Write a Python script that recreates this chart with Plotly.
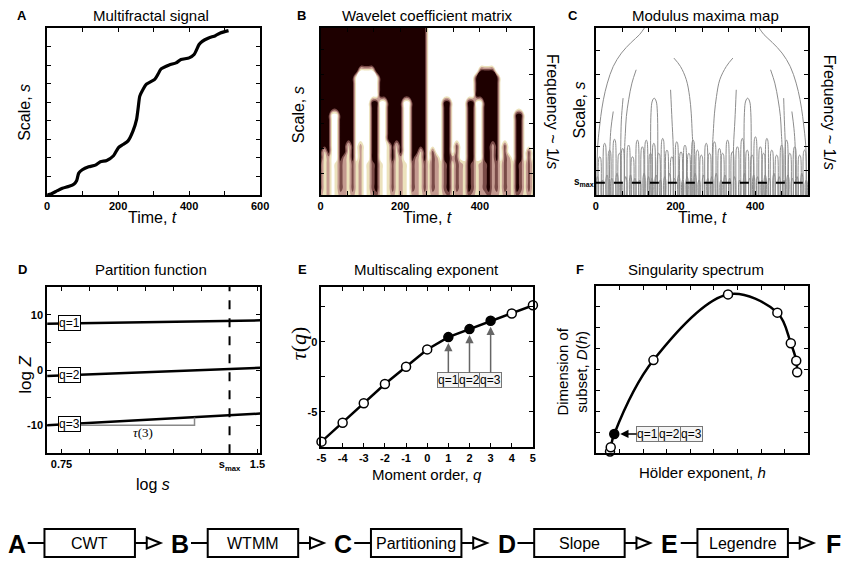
import plotly.graph_objects as go

W, H = 851, 565
OFF = 8  # the page body adds an 8px margin around the plot div
FONT = "Liberation Sans"

# ---- A: multifractal signal (value as fraction of axis height)
sig_t = [0, 11, 29, 43, 62, 76, 83, 89, 99, 117, 136, 150, 168, 187, 201, 215, 228, 242, 252, 256,
         261, 270, 279, 303, 312, 321, 344, 363, 377, 400, 414, 428, 437, 455, 474, 488, 511]
sig_v = [0, 0.006, 0.026, 0.040, 0.052, 0.066, 0.085, 0.131, 0.151, 0.169, 0.179, 0.199, 0.207,
         0.235, 0.284, 0.304, 0.324, 0.384, 0.453, 0.513, 0.592, 0.632, 0.662, 0.692, 0.722, 0.755,
         0.779, 0.791, 0.811, 0.821, 0.841, 0.901, 0.920, 0.940, 0.954, 0.970, 0.984]

# ---- B: wavelet coefficient matrix, coarse map (top row = largest scale)
# '#' dark, 'd' brown, 'p' pink, 'c' cream, '.' white
coef_rows = [
    "######### ######### ######### ......... ......... .........",
    "######### ######### ######### ......... ......... .........",
    "######### ######### ######### ......... ......... .........",
    "######### ######### ######### ......... ......... .........",
    "######### ######### ######### ......... ......... .........",
    "######### ######### ######### ......... ......... .........",
    "######### ######### ######### ......... ......... .........",
    "######### #....#### ######### ......... ....####. .........",
    "######### ......### ######### ......... ...###### .........",
    "######### ......### ######### ......... ...###### .........",
    "######### ......### ######### ......... ...###### .........",
    "######### ......### ######### ......... ...###### .........",
    "######### ....##..# ###..#### ....##... .##..#### .........",
    "######### ....##..# ###..#### ....##... .##..#### .........",
    "###..#### ....##..# ###..#### ....##... .##..#### ....##...",
    "###..#### ....##..# ###..#### ....##... .##..#### ....##...",
    "###..#### ....##..# ###..#### ....##... .##..#### ....##...",
    "###..#### ....##..# ###..#### ....##... .##..#### ....##...",
    "###..#### ....##..# ###..#### ....##... .##..#### ....##...",
    "###..##c# .p..##..c #c#..#### ....##.d. .##..##p# .d..##...",
    "#c#..##c# .p..##..c #c#..##c# .d..##.d. .##..##p# .d..##.d.",
    "#cp..#pc# .p..##..c #cp..#pc# .dp.##pd. .##..##p# .dp.##.d.",
    "dcp.cdpcd cp.cd#c.c dcpc.dpcd cdpcd#cdp c#dcpd#pd cdpc#dcdc",
    "dcp.cdpcd cp.cd#c.c dcpc.dpcd cdpcd#cdp c#dcpd#pd cdpc#dcdc",
    "dcp.cdpcd cp.cd#c.c dcpc.dpcd cdpcd#cdp c#dcpd#pd cdpc#dcdc",
    "dcp.cdpcd cp.cd#c.c dcpc.dpcd cdpcd#cdp c#dcpd#pd cdpc#dcdc",
    "dcp.cdpcd cp.cd#c.c dcpc.dpcd cdpcd#cdp c#dcpd#pd cdpc#dcdc",
    "pcp.cppcp cp.cpdc.c pcpc.ppcp cppcpdcpp cdpcppdpp cppcdpcpc",
]
coef_levels = {"#": 0.0, "d": 0.25, "p": 0.5, "c": 0.75, ".": 1.0}
T_MAX = 533

# ---- C: modulus maxima lines (time, scale as % of axis height)
mm_lines = [
    ([121.7, 109.4, 88.8, 64.2, 43.6, 28.8, 18.9, 12.3, 7.4, 4.1, 2.5], [100, 96, 91.4, 85, 77, 67, 57, 47, 37, 27, 0]),
    ([409.6, 422, 442.5, 467.2, 487.7, 502.6, 512.4, 519, 523.9, 527.3, 529], [100, 96, 91.4, 85, 77, 67, 57, 47, 37, 27, 0]),
    ([195.8, 212.2, 227, 235.2, 239.3, 241.8, 243.5, 244], [82, 77, 69, 59, 49, 37, 29, 0]),
    ([343.8, 327.4, 310.9, 302.7, 297.7, 294.5, 292.8, 292], [82, 77, 69, 59, 49, 37, 29, 0]),
    ([101.2, 90.5, 82.3, 76.5, 74, 72.4, 72], [75, 67, 57, 47, 37, 29, 0]),
    ([438.4, 449.1, 457.3, 463.1, 465.5, 467.2, 468], [75, 67, 57, 47, 37, 29, 0]),
    ([43.6, 38, 35.3, 34], [50, 40, 29, 0]),
    ([68.3, 64, 62.5, 62], [58, 45, 29, 0]),
    ([187.5, 191, 194.1, 195], [63, 45, 29, 0]),
    ([352.3, 349, 345.5, 345], [63, 45, 29, 0]),
    ([471.3, 473, 475.4, 476], [58, 45, 29, 0]),
    ([491.9, 497, 500.1, 501], [50, 40, 29, 0]),
]
# closed maxima loops: centre, top, half width
loop_t = [146.4, 380.8, 9.8, 22.1, 34.5, 46.8, 59.1, 67.3, 82.1, 92, 104.3, 116.7, 126.5, 137.2, 145.5,
          157.8, 167.7, 178.4, 190.7, 203, 213.7, 223.6, 233.4, 244.1, 254.8, 264.7, 277, 285.3, 297.6,
          310, 318.1, 330.5, 342.8, 355.2, 367.5, 379.8, 392.2, 400.4, 412.7, 421, 429.2, 441.5, 453.8,
          466.2, 478.5, 486.7, 499, 511.4, 523.7]
loop_top = [58, 58, 22.9, 31, 26.9, 33.4, 25, 27.9, 29.9, 22.9, 32.9, 28.9, 32.9, 25, 31, 25, 33.9,
            26.9, 22.9, 31.9, 25.9, 29.9, 25, 32.9, 26.9, 23.9, 31, 25, 31.9, 27.9, 25, 32.9, 25.9,
            28.9, 33.9, 26.9, 23.9, 34.9, 28.9, 25, 33.9, 26.9, 23.9, 29.9, 32.9, 25, 28.9, 23.9, 26.9]
loop_w = [8, 8] + [3.5] * 47
tiny_t = [4, 16, 28, 40, 53, 63, 75, 87, 98, 110, 121, 132, 141, 151, 162, 173, 185, 197, 208, 218, 229,
          239, 249, 259, 270, 281, 291, 302, 314, 324, 336, 348, 361, 373, 386, 396, 406, 417, 425, 435,
          447, 460, 472, 482, 493, 505, 517, 528]
tiny_top = [11, 9, 12, 10, 13, 9, 11, 12, 10, 9, 13, 11, 10, 12, 9, 11, 13, 10, 12, 9, 11, 10, 13, 9,
            12, 10, 11, 13, 9, 12, 10, 11, 9, 13, 10, 12, 11, 9, 12, 10, 13, 11, 9, 12, 10, 11, 13, 9]
s_max_c = 7.4

# ---- D: partition function
pf_logs = [0.695, 1.51]
pf_lines = {"q=1": [8.4, 9.0], "q=2": [-1.1, 0.4], "q=3": [-10.0, -7.9]}
pf_label_x = 0.779
s_max_d = 1.393
tau3_x = [0.82, 1.259, 1.259]
tau3_y = [-10.0, -10.0, -8.6]

# ---- E: multiscaling exponent
mom_q = [-5, -4, -3, -2, -1, 0, 1, 2, 3, 4, 5]
tau_q = [-7.14, -5.79, -4.40, -3.02, -1.79, -0.55, 0.33, 0.90, 1.5, 2.02, 2.6]

# ---- F: singularity spectrum (axis in tick units)
hold_h = [0.6, 0.63, 0.78, 2.44, 5.6, 7.69, 8.26, 8.49, 8.53]
dim_h = [0.08, 0.29, 0.92, 4.44, 7.57, 6.7, 5.24, 4.41, 3.86]
filled_idx = 2

# ---- flow chart
flow_letters = ["A", "B", "C", "D", "E", "F"]
flow_steps = ["CWT", "WTMM", "Partitioning", "Slope", "Legendre"]

FW, FH = W - OFF, H - OFF


def px(x):
    return (x - OFF) / FW


def py(y):
    return 1 - (y - OFF) / FH


fig = go.Figure()

# A
fig.add_trace(go.Scatter(x=sig_t, y=sig_v, mode="lines", line=dict(color="black", width=3.2, shape="spline", smoothing=0.6),
                         xaxis="x", yaxis="y", showlegend=False))

# B  (filled contours give the rounded arches)
z = [[coef_levels[ch] for ch in row.replace(" ", "")] for row in coef_rows]
ncol = len(z[0])
pink = [[0, "#1e0000"], [0.25, "#7a4b48"], [0.5, "#c49a90"], [0.75, "#ece2bc"], [1, "#ffffff"]]
fig.add_trace(go.Contour(z=z, x0=0, dx=T_MAX / (ncol - 1), y0=0, dy=1, zmin=0, zmax=1,
                         colorscale=pink, showscale=False, autocontour=False,
                         contours=dict(start=0.125, end=0.875, size=0.25, coloring="fill"),
                         line=dict(width=0, smoothing=1.3), xaxis="x2", yaxis="y2", hoverinfo="skip"))

# C
grey = "#8c8c8c"
for lx, ly in mm_lines:
    fig.add_trace(go.Scatter(x=lx, y=ly, mode="lines", line=dict(color=grey, width=1, shape="spline"),
                             xaxis="x3", yaxis="y3", showlegend=False))
lxs, lys = [], []
for c, top, w in zip(loop_t, loop_top, loop_w):
    lxs += [c - w, c - w, c - 0.6 * w, c, c + 0.6 * w, c + w, c + w, None]
    lys += [0, top * 0.85, top * 0.97, top, top * 0.97, top * 0.85, 0, None]
for c, top in zip(tiny_t, tiny_top):
    lxs += [c - 2.5, c - 2.5, c, c + 2.5, c + 2.5, None]
    lys += [0, top * 0.8, top, top * 0.8, 0, None]
fig.add_trace(go.Scatter(x=lxs, y=lys, mode="lines", line=dict(color=grey, width=1, shape="spline"),
                         xaxis="x3", yaxis="y3", showlegend=False))
fig.add_trace(go.Scatter(x=[0, T_MAX], y=[s_max_c, s_max_c], mode="lines", line=dict(color="black", width=2, dash="dash"),
                         xaxis="x3", yaxis="y3", showlegend=False))

# D
for name, vals in pf_lines.items():
    fig.add_trace(go.Scatter(x=pf_logs, y=vals, mode="lines", line=dict(color="black", width=2.5),
                             xaxis="x4", yaxis="y4", showlegend=False))
fig.add_trace(go.Scatter(x=tau3_x, y=tau3_y, mode="lines", line=dict(color="#888", width=1.5),
                         xaxis="x4", yaxis="y4", showlegend=False))
fig.add_trace(go.Scatter(x=[s_max_d, s_max_d], y=[-15.1, 15.1], mode="lines", line=dict(color="black", width=2, dash="dash"),
                         xaxis="x4", yaxis="y4", showlegend=False))

# E
fig.add_trace(go.Scatter(x=mom_q, y=tau_q, mode="lines+markers", line=dict(color="black", width=2.5),
                         marker=dict(size=9, color=["black" if q in (1, 2, 3) else "white" for q in mom_q],
                                     line=dict(color="black", width=1.5)),
                         cliponaxis=False, xaxis="x5", yaxis="y5", showlegend=False))

# F
fig.add_trace(go.Scatter(x=hold_h, y=dim_h, mode="lines", line=dict(color="black", width=2.5, shape="spline", smoothing=1),
                         xaxis="x6", yaxis="y6", showlegend=False))
fig.add_trace(go.Scatter(x=hold_h, y=dim_h, mode="markers",
                         marker=dict(size=9, color=["black" if i == filled_idx else "white" for i in range(len(hold_h))],
                                     line=dict(color="black", width=1.5)),
                         cliponaxis=False, xaxis="x6", yaxis="y6", showlegend=False))

tickfont = dict(family=FONT, size=11, color="black", weight="bold")
frame = dict(showline=True, linecolor="black", linewidth=1.8, mirror="ticks", ticks="inside", ticklen=4,
             tickwidth=1, tickcolor="black", showgrid=False, zeroline=False, tickfont=tickfont, fixedrange=True)


def dom_x(a, b):
    return [px(a), px(b)]


def dom_y(top, bottom):
    return [py(bottom), py(top)]


bc_ticks = [0, 66.7, 133.3, 200, 266.7, 333.3, 400, 466.7]
bc_text = ["0", "", "", "200", "", "", "400", ""]

layout = dict(
    width=FW, height=FH, margin=dict(l=0, r=0, t=0, b=0), plot_bgcolor="white", paper_bgcolor="white",
    font=dict(family=FONT, color="black"),
    xaxis=dict(frame, domain=dom_x(42.7, 259.3), range=[0, 600], tickvals=[0, 100, 200, 300, 400, 500, 600],
               ticktext=["0", "", "200", "", "400", "", "600"], anchor="y"),
    yaxis=dict(frame, domain=dom_y(28, 195), range=[0, 1], dtick=1 / 9, showticklabels=False, anchor="x"),
    xaxis2=dict(frame, domain=dom_x(320.7, 536.7), range=[0, T_MAX], tickvals=bc_ticks, ticktext=bc_text, anchor="y2"),
    yaxis2=dict(frame, domain=dom_y(28, 195), range=[len(z) - 1, 0], tickvals=[3.5, 7.5, 11.5, 15.5, 19.5, 23.5],
                showticklabels=False, anchor="x2"),
    xaxis3=dict(frame, domain=dom_x(600.7, 816.7), range=[0, T_MAX], tickvals=bc_ticks, ticktext=bc_text, anchor="y3"),
    yaxis3=dict(frame, domain=dom_y(28, 195), range=[0, 100], dtick=14.4, showticklabels=False, anchor="x3"),
    xaxis4=dict(frame, domain=dom_x(42.7, 259.3), range=[0.695, 1.51],
                tickvals=[0.75, 0.857, 0.964, 1.071, 1.179, 1.286, 1.393, 1.5],
                ticktext=["0.75", "", "", "", "", "", "s<sub>max</sub>", "1.5"], anchor="y4"),
    yaxis4=dict(frame, domain=dom_y(286.7, 453.3), range=[-15.1, 15.1], tickvals=[-10, -5, 0, 5, 10],
                ticktext=["-10", "", "0", "", "10"], anchor="x4"),
    xaxis5=dict(frame, domain=dom_x(321.7, 536.7), range=[-5, 5], tickvals=mom_q,
                ticktext=[str(q) for q in mom_q], anchor="y5"),
    yaxis5=dict(frame, domain=dom_y(286.7, 446.7), range=[-7.5, 3.93], tickvals=[-7.5, -5, -2.5, 0, 2.5],
                ticktext=["", "-5", "", "0", ""], anchor="x5"),
    xaxis6=dict(frame, domain=dom_x(600.7, 816.7), range=[0, 9], dtick=1, showticklabels=False, anchor="y6"),
    yaxis6=dict(frame, domain=dom_y(286, 453.3), range=[0, 7.97], dtick=1, showticklabels=False, anchor="x6"),
)
fig.update_layout(**layout)

ann = []


def text(x, y, s, size=15, angle=0, bold=False, family=FONT):
    ann.append(dict(x=px(x), y=py(y), xref="paper", yref="paper", text=s, showarrow=False, textangle=angle,
                    font=dict(family=family, size=size, color="black", weight="bold" if bold else "normal"),
                    xanchor="center", yanchor="middle"))


# panel titles and letters
for lx, tx, ty, letter, title in [(17, 148, 16, "A", "Multifractal signal"),
                                  (301, 430, 16, "B", "Wavelet coefficient matrix"),
                                  (577, 712, 16, "C", "Modulus maxima map"),
                                  (18, 148, 270, "D", "Partition function"),
                                  (302, 428, 270, "E", "Multiscaling exponent"),
                                  (585, 703, 270, "F", "Singularity spectrum")]:
    text(lx, ty, letter, size=13, bold=True)
    text(tx, ty, title, size=15)

# axis titles
text(20, 112, "Scale, <i>s</i>", size=16, angle=-90)
text(150, 217, "Time, <i>t</i>", size=16)
text(298, 115, "Scale, <i>s</i>", size=16, angle=-90)
text(429, 217, "Time, <i>t</i>", size=16)
text(556, 112, "Frequency ~ 1/<i>s</i>", size=16, angle=90)
text(585, 110, "Scale, <i>s</i>", size=16, angle=-90)
text(709, 217, "Time, <i>t</i>", size=16)
text(838, 112, "Frequency ~ 1/<i>s</i>", size=16, angle=90)
text(589, 182, "s<sub>max</sub>", size=10, bold=True)
text(20, 375, "log <i>Z</i>", size=17, angle=-90)
text(150, 484, "log <i>s</i>", size=16)
text(298, 343, "<i>τ</i>(<i>q</i>)", size=22, angle=-90, family="Liberation Serif")
text(429, 474, "Moment order, <i>q</i>", size=15)
text(576, 372, "Dimension of<br>subset, <i>D</i>(<i>h</i>)", size=15, angle=-90)
text(709, 472, "Hölder exponent, <i>h</i>", size=15)

# D labels
for name, vals in pf_lines.items():
    yv = vals[0] + (pf_label_x - pf_logs[0]) / (pf_logs[1] - pf_logs[0]) * (vals[1] - vals[0])
    ann.append(dict(x=pf_label_x, y=yv, xref="x4", yref="y4", text=name, showarrow=False, bgcolor="white",
                    bordercolor="black", borderwidth=1, borderpad=0, font=dict(family=FONT, size=12, color="black")))
ann.append(dict(x=1.06, y=-11.4, xref="x4", yref="y4", text="<i>τ</i>(3)", showarrow=False,
                font=dict(family="Liberation Serif", size=13, color="black")))

# E arrows
for q in (1, 2, 3):
    ann.append(dict(x=q, y=tau_q[mom_q.index(q)], xref="x5", yref="y5", ax=q, ay=-2.75, axref="x5", ayref="y5",
                    text=f"q={q}", showarrow=True, arrowhead=2, arrowsize=1.1, arrowwidth=1.5, arrowcolor="#666",
                    standoff=6, bgcolor="#f4f4f4", bordercolor="#777", borderwidth=1, borderpad=0,
                    font=dict(family=FONT, size=12, color="black")))

# F arrow + boxes
ann.append(dict(x=hold_h[filled_idx], y=dim_h[filled_idx], xref="x6", yref="y6", ax=2.19, ay=dim_h[filled_idx],
                axref="x6", ayref="y6", text="q=1", showarrow=True, arrowhead=2, arrowsize=1.1, arrowwidth=1.5,
                arrowcolor="black", standoff=6, bgcolor="#f4f4f4", bordercolor="#777", borderwidth=1, borderpad=0,
                font=dict(family=FONT, size=12, color="black")))
for qx, lab in [(3.13, "q=2"), (4.07, "q=3")]:
    ann.append(dict(x=qx, y=dim_h[filled_idx], xref="x6", yref="y6", text=lab, showarrow=False,
                    bgcolor="#f4f4f4", bordercolor="#777", borderwidth=1, borderpad=0,
                    font=dict(family=FONT, size=12, color="black")))

# flow chart
shapes = []
fy = 543
for i, letter in enumerate(flow_letters):
    L = 12 + 166 * i
    text(L, fy + 1, letter, size=25, bold=True)
    if i < len(flow_steps):
        shapes.append(dict(type="line", xref="paper", yref="paper", x0=px(L + 11), x1=px(L + 28), y0=py(fy), y1=py(fy),
                           line=dict(color="black", width=2)))
        shapes.append(dict(type="rect", xref="paper", yref="paper", x0=px(L + 28), x1=px(L + 120), y0=py(557), y1=py(529),
                           line=dict(color="black", width=2), fillcolor="white"))
        shapes.append(dict(type="line", xref="paper", yref="paper", x0=px(L + 120), x1=px(L + 132), y0=py(fy), y1=py(fy),
                           line=dict(color="black", width=2)))
        path = f"M {px(L + 132)},{py(fy - 5.5)} L {px(L + 146)},{py(fy)} L {px(L + 132)},{py(fy + 5.5)} Z"
        shapes.append(dict(type="path", xref="paper", yref="paper", path=path, line=dict(color="black", width=2),
                           fillcolor="white"))
        text(L + 74, fy, flow_steps[i], size=16)

fig.update_layout(annotations=ann, shapes=shapes)
fig.write_html("out.html")
